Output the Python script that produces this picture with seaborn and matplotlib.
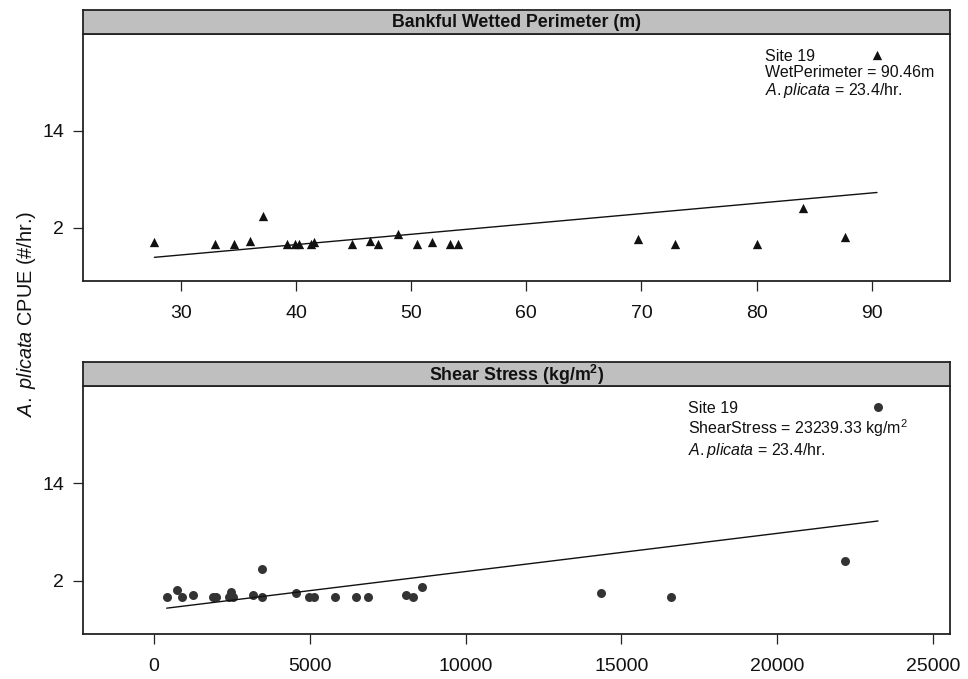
import numpy as np
import pandas as pd
import matplotlib
matplotlib.use("Agg")
import matplotlib.pyplot as plt
import seaborn as sns

# values
wet_perimeter = [27.7, 33.0, 34.6, 36.0, 37.1, 39.2, 39.9, 40.3, 41.3, 41.6, 44.9, 46.4,
                 47.1, 48.9, 50.5, 51.8, 53.4, 54.1, 69.7, 72.9, 80.0, 84.0, 87.7, 90.46]
cpue_wp = [0.2, 0.0, 0.0, 0.4, 3.4, 0.0, 0.0, 0.0, 0.0, 0.2, 0.0, 0.4,
           0.0, 1.2, 0.0, 0.2, 0.0, 0.0, 0.6, 0.0, 0.0, 4.4, 0.8, 23.4]

shear_stress = [407, 750, 888, 1264, 1893, 1989, 2460, 2406, 2547, 3176, 3477, 3464, 4545,
                4985, 5132, 5806, 6479, 6864, 8074, 8320, 8597, 14338, 16606, 22165, 23239.33]
cpue_ss = [0.0, 0.8, 0.0, 0.2, 0.0, 0.0, 0.6, 0.0, 0.0, 0.2, 3.4, 0.0, 0.4,
           0.0, 0.0, 0.0, 0.0, 0.0, 0.2, 0.0, 1.2, 0.4, 0.0, 4.4, 23.4]

wp_ticks = [30, 40, 50, 60, 70, 80, 90]
ss_ticks = [0, 5000, 10000, 15000, 20000, 25000]
y_ticks = [2, 14]

wp = pd.DataFrame({"x": wet_perimeter, "y": cpue_wp})
ss = pd.DataFrame({"x": shear_stress, "y": cpue_ss})

sns.set_style("white")
plt.rcParams["font.family"] = ["Liberation Sans", "DejaVu Sans"]
plt.rcParams["mathtext.fontset"] = "custom"
plt.rcParams["mathtext.rm"] = "Liberation Sans"
plt.rcParams["mathtext.it"] = "Liberation Sans:italic"
plt.rcParams["mathtext.bf"] = "Liberation Sans:bold"

fig = plt.figure(figsize=(9.68, 6.79), dpi=100)

W, H = 968, 679
left, right = 83, 950


def panel(top_px, bottom_px):
    return fig.add_axes([left / W, 1 - bottom_px / H, (right - left) / W, (bottom_px - top_px) / H])


def strip(top_px, bottom_px, title):
    s = fig.add_axes([left / W, 1 - bottom_px / H, (right - left) / W, (bottom_px - top_px) / H])
    s.set_facecolor("#bfbfbf")
    s.set_xticks([])
    s.set_yticks([])
    for sp in s.spines.values():
        sp.set_color("#222222")
        sp.set_linewidth(1.3)
    s.text(0.5, 0.45, title, ha="center", va="center", fontsize=12.8, fontweight="bold",
           color="#111111", transform=s.transAxes)
    return s


def style(ax, ticks, xlim):
    ax.set_xlim(*xlim)
    ax.set_ylim(-4.6, 26.0)
    ax.set_xticks(ticks)
    ax.set_xticklabels([str(t) for t in ticks])
    ax.set_yticks(y_ticks)
    ax.set_yticklabels([str(t) for t in y_ticks])
    ax.tick_params(axis="both", direction="out", length=7, width=0.9, color="#222222",
                   labelsize=14, labelcolor="#111111", bottom=True, left=True)
    ax.tick_params(axis="x", pad=10.5)
    ax.tick_params(axis="y", pad=6.5)
    ax.set_xlabel("")
    ax.set_ylabel("")
    for sp in ax.spines.values():
        sp.set_color("#222222")
        sp.set_linewidth(1.3)


ax1 = panel(34, 281)
strip(9.5, 34, "Bankful Wetted Perimeter (m)")
sns.regplot(data=wp, x="x", y="y", ax=ax1, ci=None, truncate=True,
            marker="^", scatter_kws={"s": 45, "color": "#111111", "linewidths": 0, "alpha": 1},
            line_kws={"color": "#111111", "linewidth": 1.0})
style(ax1, wp_ticks, (21.5, 96.8))
ax1.text(0.787, 0.94, "Site 19\nWetPerimeter = 90.46m\n$\\it{A.plicata}$ = 23.4/hr.",
         transform=ax1.transAxes, ha="left", va="top", fontsize=11.5, linespacing=1.1,
         color="#111111")

ax2 = panel(386, 634)
strip(362, 386, "Shear Stress (kg/m$^\\mathbf{2}$)")
sns.regplot(data=ss, x="x", y="y", ax=ax2, ci=None, truncate=True,
            marker="o", scatter_kws={"s": 42, "color": "#333333", "linewidths": 0, "alpha": 1},
            line_kws={"color": "#111111", "linewidth": 1.0})
style(ax2, ss_ticks, (-2280, 25550))
ax2.text(0.698, 0.94, "Site 19\nShearStress = 23239.33 kg/m$^2$\n$\\it{A.plicata}$ = 23.4/hr.",
         transform=ax2.transAxes, ha="left", va="top", fontsize=11.5, linespacing=1.1,
         color="#111111")

fig.text(0.027, 1 - 314 / H, "$\\it{A.\\ plicata}$ CPUE (#/hr.)", rotation=90, ha="center",
         va="center", fontsize=14.3, color="#111111")

fig.savefig("out.png", dpi=100)
